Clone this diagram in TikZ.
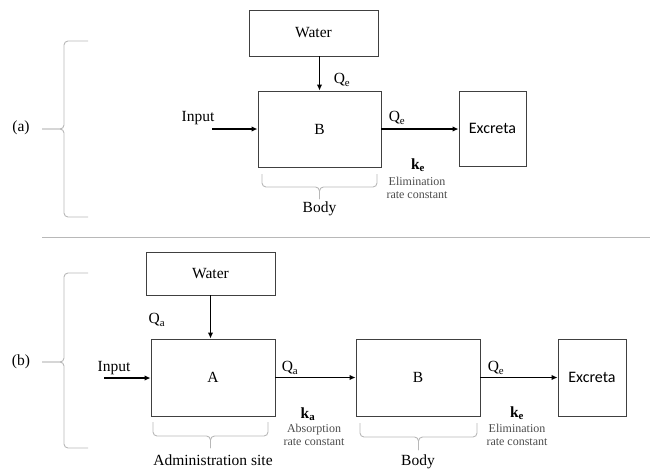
\documentclass[tikz,border=0pt]{standalone}
\usepackage{fontspec}
\setmainfont{Liberation Serif}
\newfontfamily\excfont{Carlito}
\usetikzlibrary{arrows.meta}
\definecolor{dunkelgrau}{gray}{0.25}
\definecolor{hellgrau}{gray}{0.72}
\definecolor{textgrau}{gray}{0.3}

% brace under a box: x1, x2, top, middle, tip
\newcommand{\klammerunten}[5]{%
  \draw[klammer] (#1,#3) -- (#1,#4) -- ({(#1+#2)/2},#4) -- ({(#1+#2)/2},#5);
  \draw[klammer] (#2,#3) -- (#2,#4) -- ({(#1+#2)/2},#4) -- ({(#1+#2)/2},#5);
}
% brace on the left: top, bottom, middle
\newcommand{\klammerlinks}[3]{%
  \draw[klammer] (88,#1) -- (64,#1) -- (64,#3) -- (42,#3);
  \draw[klammer] (88,#2) -- (64,#2) -- (64,#3) -- (42,#3);
}

\tikzset{
  box/.style={draw=dunkelgrau, line width=0.9pt, inner sep=0pt},
  fluss/.style={-{Latex[length=6pt,width=5.5pt]}, line width=1.8pt},
  klammer/.style={hellgrau, line width=0.9pt, rounded corners=4pt},
  klein/.style={font=\fontsize{12}{13}\selectfont, text=textgrau, align=center},
  exc/.style={box, font=\excfont\fontsize{16}{18}\selectfont}
}

\begin{document}
\begin{tikzpicture}[x=1pt, y=-1pt, font=\fontsize{15.5}{18}\selectfont]
  \useasboundingbox (0,0) rectangle (652,472);

  % (a)
  \node[box, minimum width=129pt, minimum height=46pt] (watera) at (313.5,33) {Water};
  \node[box, minimum width=123pt, minimum height=76pt] (ba) at (319.5,129) {B};
  \node[exc, minimum width=67pt, minimum height=75pt] (exca) at (492.5,128.5) {Excreta};
  \node (inputa) at (198,118) {Input};
  \coordinate (ina) at (212,129);
  \draw[fluss] (ina) -- (ina -| ba.west);
  \draw[fluss] (ba.north |- watera.south) -- (ba.north);
  \node (qwa) at (342,80) {Q\textsubscript{e}};
  \draw[fluss] (ba.east) -- (ba.east -| exca.west);
  \node (qea) at (397,118) {Q\textsubscript{e}};
  \node (kea) at (418,165) {\textbf{k\textsubscript{e}}};
  \node[klein] (elima) at (417,187.5) {Elimination\\rate constant};
  \klammerunten{262}{377}{174}{187}{199}
  \node (bodya) at (319.5,209) {Body};
  \klammerlinks{41}{217}{129}
  \node (laba) at (21,128) {(a)};

  \draw[hellgrau, line width=0.9pt] (42,237) -- (650,237);

  % (b)
  \node[box, minimum width=129pt, minimum height=43pt] (waterb) at (210.5,273.5) {Water};
  \node[box, minimum width=124pt, minimum height=77pt] (ab) at (213,377.5) {A};
  \node[box, minimum width=124pt, minimum height=77pt] (bb) at (418,377.5) {B};
  \node[exc, minimum width=68pt, minimum height=77pt] (excb) at (592,377.5) {Excreta};
  \node (inputb) at (114,368) {Input};
  \coordinate (inb) at (104,378);
  \draw[fluss] (inb) -- (inb -| ab.west);
  \draw[fluss] (waterb.south) -- (waterb.south |- ab.north);
  \node (qwb) at (157,320) {Q\textsubscript{a}};
  \draw[fluss] (ab.east) -- (bb.west);
  \node (qab) at (290,368) {Q\textsubscript{a}};
  \node (kab) at (308,414) {\textbf{k\textsubscript{a}}};
  \node[klein] (absb) at (314,435) {Absorption\\rate constant};
  \draw[fluss] (bb.east) -- (excb.west);
  \node (qeb) at (496,368) {Q\textsubscript{e}};
  \node (keb) at (517,413) {\textbf{k\textsubscript{e}}};
  \node[klein] (elimb) at (517,435) {Elimination\\rate constant};
  \klammerunten{153}{268}{422}{436}{448}
  \node (adminb) at (213,460) {Administration site};
  \klammerunten{360}{477}{423}{437}{450}
  \node (bodyb) at (418,462) {Body};
  \klammerlinks{273}{448}{362}
  \node (labb) at (21,362) {(b)};
\end{tikzpicture}
\end{document}
